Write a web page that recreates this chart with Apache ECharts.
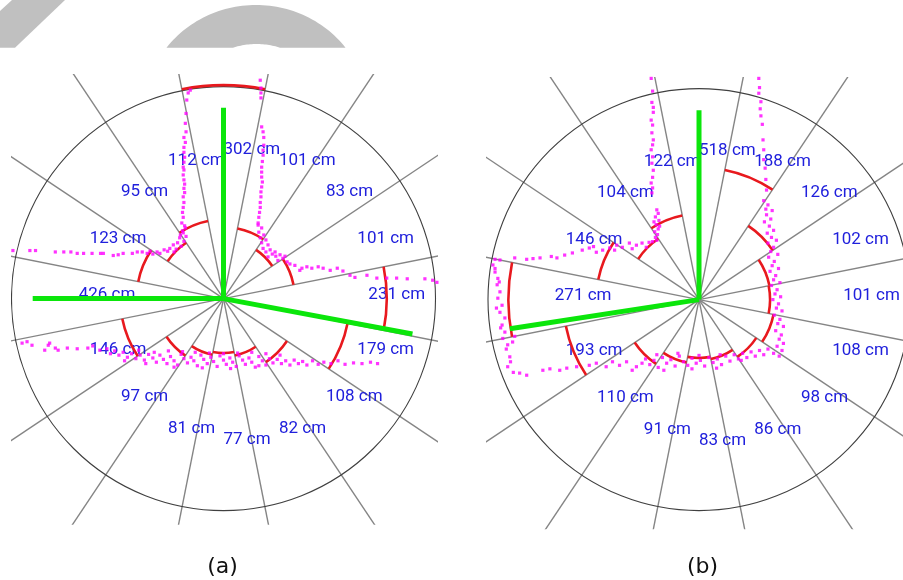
<!DOCTYPE html>
<html>
<head>
<meta charset="utf-8">
<script src="https://cdn.jsdelivr.net/npm/echarts@6/dist/echarts.min.js"></script>
<style>
html,body{margin:0;padding:0;background:#fff}
#chart{width:903px;height:580px}
</style>
</head>
<body>
<div id="chart"></div>
<script>
// Nearest obstacle per 22.5° sector, clockwise from straight ahead (cm)
const sectorDistA = [302, 101, 83, 101, 231, 179, 108, 82, 77, 81, 97, 146, 426, 123, 95, 112];
const sectorDistB = [518, 188, 126, 102, 101, 108, 98, 86, 83, 91, 110, 193, 271, 146, 104, 122];

// Candidate headings: [bearing in degrees clockwise from ahead, drawn length in cm]
const headingsA = [[0, 270], [270, 270], [100.6, 272]];
const headingsB = [[0, 268], [261.3, 272]];

// Laser scan returns, sensor frame (x right, y ahead), cm
const scanA = [
  [-47,295],[-50,291],[-52,281],[-53,262],[-54,248],[-53,236],[-56,228],[-54,221],[-56,214],[-56,207],
  [-55,200],[-56,193],[-57,186],[-56,182],[-57,175],[-56,168],[-55,162],[-56,156],[-55,150],[-57,144],
  [-56,136],[-57,129],[-58,122],[-57,115],[-59,107],[-55,103],
  [-54,100],[-57,93],[-53,88],[-62,86],[-56,81],[-65,79],[-60,74],[-71,76],[-67,70],[-76,71],
  [-79,67],[-84,69],[-90,64],[-94,66],[-100,63],[-70,66],[-104,67],[-58,96],[-61,90],
  [-298,68],[-274,68],[-266,68],[-238,66],[-226,66],[-216,66],[-207,64],[-198,64],[-186,64],[-174,64],
  [-170,64],[-156,61],[-149,62],[-142,64],[-129,64],[-122,66],[-115,66],[-108,64],
  [52,309],[53,298],[53,291],[53,284],[54,243],[56,236],[57,228],[57,217],[56,210],[56,203],
  [55,194],[54,186],[54,179],[54,172],[55,165],[54,158],[53,151],[53,144],[52,136],[52,129],
  [51,122],[50,115],[49,107],
  [49,104],[54,100],[50,94],[57,90],[52,86],[60,83],[54,79],[63,76],[56,71],[66,69],
  [60,66],[69,63],[73,66],[63,59],[74,60],[80,62],[84,57],[77,54],[87,60],
  [90,52],[94,49],[101,47],[108,40],[111,43],[118,45],[125,43],[134,45],[141,43],[151,40],
  [161,43],[169,39],[179,33],[186,30],[203,33],[217,29],[231,29],[245,29],[260,28],[285,28],
  [296,26],[302,23],
  [-285,-63],[-278,-61],[-271,-66],[-253,-73],[-248,-66],[-246,-63],[-238,-70],[-234,-73],[-221,-70],
  [-207,-71],[-192,-70],[-185,-67],[-175,-73],
  [-165,-71],[-160,-78],[-154,-74],[-148,-80],[-142,-76],[-136,-83],[-130,-78],[-124,-85],[-118,-80],
  [-112,-87],[-106,-79],[-100,-84],[-95,-90],[-90,-80],[-85,-86],[-80,-92],[-75,-82],[-70,-88],
  [-65,-94],[-60,-79],[-56,-85],[-51,-91],[-46,-83],[-42,-88],[-37,-95],[-32,-80],[-28,-86],
  [-23,-92],[-18,-83],[-14,-89],[-9,-96],[-5,-81],[0,-87],[4,-93],[9,-84],[13,-90],[18,-96],
  [22,-81],[27,-87],[31,-93],[36,-84],[40,-90],[45,-97],[50,-82],[55,-88],[60,-94],[65,-85],
  [70,-91],[76,-86],[82,-92],[88,-88],[94,-94],[100,-87],[106,-92],[112,-89],[118,-94],
  [-120,-73],[-98,-76],[-78,-74],[-58,-75],[-40,-76],[-20,-77],[0,-78],[20,-77],[40,-76],[60,-78],
  [80,-80],[-140,-88],[-110,-92],[-70,-97],[-30,-98],[10,-99],[50,-95],
  [126,-88],[134,-93],[142,-90],[152,-92],[162,-88],[172,-93],[184,-91],[196,-92],[208,-90],[218,-92]
];

const scanB = [
  [-68,313],[-66,295],[-67,279],[-65,272],[-65,265],[-68,254],[-66,247],[-67,236],[-65,226],[-66,219],
  [-68,212],[-66,202],[-67,193],[-65,183],[-66,173],[-68,165],[-66,158],[-67,151],
  [-60,127],[-58,122],[-62,117],[-57,112],[-61,106],[-58,100],[-63,96],[-59,92],[-62,88],[-60,84],
  [-66,82],[-56,104],[-64,110],
  [-71,81],[-81,80],[-89,77],[-99,80],[-109,74],[-117,77],[-127,73],[-137,70],[-146,67],[-156,73],
  [-166,70],[-180,66],[-191,63],[-202,59],[-226,59],[-245,57],[-262,59],[-283,56],[-290,57],[-95,72],
  [-120,70],[-150,75],[-75,74],[-210,61],[-236,58],
  [-293,49],[-290,39],[-286,30],[-287,21],[-283,11],[-286,2],[-280,-8],[-283,-18],[-276,-26],[-280,-36],
  [-276,-46],[-279,-55],[-272,-64],[-269,-81],[-272,-95],[-264,-103],[-255,-104],[-245,-107],[-290,44],
  [-284,25],[-288,-12],[-282,-40],[-274,-70],[-268,-88],[-262,-52],[-265,-60],
  [-222,-100],[-212,-98],[-198,-100],[-188,-97],[-174,-95],[-156,-93],[-146,-90],[-132,-95],[-123,-88],
  [-113,-93],[-103,-88],[-89,-95],[-81,-90],
  [-76,-84],[-70,-92],[-64,-86],[-58,-96],[-52,-82],[-46,-90],[-40,-85],[-34,-94],[-28,-80],[-22,-88],
  [-16,-93],[-10,-83],[-4,-90],[2,-86],[8,-94],[14,-82],[20,-89],[26,-84],[32,-92],[38,-80],
  [44,-87],[50,-78],[56,-84],[62,-76],[68,-82],[74,-74],[80,-80],[86,-72],[92,-78],[98,-70],
  [-60,-78],[-30,-76],[0,-79],[30,-78],[60,-86],[-95,-100],[-50,-100],[-10,-98],[25,-97],
  [92,140],[98,134],[95,128],[104,126],[96,120],[102,114],[93,110],[100,104],[106,98],[97,94],
  [103,88],[110,84],[98,80],[106,74],[102,68],[112,64],[99,60],[107,54],[104,48],[113,44],
  [101,40],[109,34],[106,28],[115,24],[103,20],[111,14],[108,8],[116,4],[105,0],[113,-6],
  [110,-12],[118,-16],[107,-22],[115,-28],[112,-34],[120,-38],[109,-44],[117,-50],[114,-56],[120,-62],
  [111,-66],[118,-72],[106,-76],[114,-80],
  [85,313],[86,300],[85,292],[88,280],[87,270],[88,260],[90,248],[91,226],[92,212],[92,198],
  [94,186],[95,170],[96,155]
];

const SECTORS = 16;
const SECTOR_DEG = 360 / SECTORS;
const RING_CM = 300;      // outer reference ring
const LABEL_CM = 205;     // where sector labels are anchored
const PX_PER_CM = 212 / RING_CM;

const rad = d => d * Math.PI / 180;
// bearing (clockwise from ahead) -> canvas angle (clockwise from +x)
const screenAngle = b => rad(b - 90);

function gridFor(cx, cy, xMin, xMax, yMin, yMax) {
  return {
    left: cx + xMin * PX_PER_CM,
    top: cy - yMax * PX_PER_CM,
    width: (xMax - xMin) * PX_PER_CM,
    height: (yMax - yMin) * PX_PER_CM,
    containLabel: false
  };
}

const panels = [
  { grid: gridFor(223.5, 298.6, -300, 302, -320, 318), x: [-300, 302], y: [-320, 318],
    dist: sectorDistA, headings: headingsA, scan: scanA },
  { grid: gridFor(700, 299.6, -302, 290, -325, 315), x: [-302, 290], y: [-325, 315],
    dist: sectorDistB, headings: headingsB, scan: scanB }
];

// Grey backdrop arch at the top edge: outer and inner elliptic outlines cut at y = 47.7
function archOutline() {
  const cut = 47.7, pts = [];
  const outer = { cx: 256, cy: 112, rx: 112, ry: 107 };
  const inner = { cx: 256.5, cy: 120.5, rx: 76.5, ry: 76.5 };
  const span = e => Math.asin((e.cy - cut) / e.ry);
  const a0 = span(outer), a1 = span(inner);
  for (let i = 0; i <= 60; i++) {
    const t = a0 + (Math.PI - 2 * a0) * i / 60;
    pts.push([outer.cx - outer.rx * Math.cos(t), outer.cy - outer.ry * Math.sin(t)]);
  }
  for (let i = 0; i <= 30; i++) {
    const t = (Math.PI - a1) - (Math.PI - 2 * a1) * i / 30;
    pts.push([inner.cx - inner.rx * Math.cos(t), inner.cy - inner.ry * Math.sin(t)]);
  }
  return pts;
}

function renderFrame(params, api) {
  const c = api.coord([0, 0]);
  const r = api.size([RING_CM, 0])[0];
  const far = api.size([1500, 0])[0];
  const children = [];
  for (let k = 0; k < SECTORS; k++) {
    const a = screenAngle(SECTOR_DEG / 2 + k * SECTOR_DEG);
    children.push({
      type: 'line',
      shape: { x1: c[0], y1: c[1], x2: c[0] + far * Math.cos(a), y2: c[1] + far * Math.sin(a) },
      style: { stroke: '#858585', lineWidth: 1.4 }
    });
  }
  children.push({
    type: 'circle',
    shape: { cx: c[0], cy: c[1], r: r },
    style: { fill: 'none', stroke: '#404040', lineWidth: 1.1 }
  });
  return { type: 'group', children };
}

function renderArc(params, api) {
  const k = api.value(0), d = api.value(1);
  const c = api.coord([0, 0]);
  const r = api.size([d, 0])[0];
  const b = k * SECTOR_DEG;
  return {
    type: 'arc',
    shape: { cx: c[0], cy: c[1], r: r,
             startAngle: screenAngle(b - SECTOR_DEG / 2), endAngle: screenAngle(b + SECTOR_DEG / 2),
             clockwise: true },
    style: { fill: 'none', stroke: '#e8191e', lineWidth: 2.6 }
  };
}

function renderLabel(params, api) {
  const k = api.value(0), d = api.value(1);
  const b = rad(k * SECTOR_DEG);
  const p = api.coord([LABEL_CM * Math.sin(b), LABEL_CM * Math.cos(b)]);
  return {
    type: 'text',
    x: p[0], y: p[1] - 4,
    style: { text: d + ' cm', fill: '#2020dc', font: '17px Roboto',
             align: 'left', verticalAlign: 'middle' }
  };
}

function renderHeading(params, api) {
  const b = rad(api.value(0)), len = api.value(1);
  const c = api.coord([0, 0]);
  const e = api.coord([len * Math.sin(b), len * Math.cos(b)]);
  return {
    type: 'line',
    shape: { x1: c[0], y1: c[1], x2: e[0], y2: e[1] },
    style: { stroke: '#0be60b', lineWidth: 5, lineCap: 'butt' }
  };
}

const option = {
  animation: false,
  backgroundColor: '#ffffff',
  grid: panels.map(p => p.grid),
  xAxis: panels.map((p, i) => ({ type: 'value', gridIndex: i, min: p.x[0], max: p.x[1], show: false })),
  yAxis: panels.map((p, i) => ({ type: 'value', gridIndex: i, min: p.y[0], max: p.y[1], show: false })),
  series: [],
  graphic: [
    { type: 'polygon', z: 0, silent: true,
      shape: { points: [[12, 0], [65, 0], [15, 47.7], [0, 47.7], [0, 11]] },
      style: { fill: '#c0c0c0' } },
    { type: 'polygon', z: 0, silent: true,
      shape: { points: archOutline() },
      style: { fill: '#c0c0c0' } },
    { type: 'text', x: 222.5, y: 567, silent: true,
      style: { text: '(a)', font: '22px "DejaVu Sans"', fill: '#111',
               textAlign: 'center', textVerticalAlign: 'middle' } },
    { type: 'text', x: 702.5, y: 567, silent: true,
      style: { text: '(b)', font: '22px "DejaVu Sans"', fill: '#111',
               textAlign: 'center', textVerticalAlign: 'middle' } }
  ]
};

panels.forEach((p, i) => {
  const sectorData = p.dist.map((d, k) => [k, d]);
  const common = { xAxisIndex: i, yAxisIndex: i, silent: true };
  option.series.push(
    Object.assign({ type: 'custom', z: 1, clip: true, data: [[0, 0]], renderItem: renderFrame }, common),
    Object.assign({ type: 'custom', z: 2, clip: false, data: sectorData, renderItem: renderLabel }, common),
    Object.assign({ type: 'custom', z: 3, clip: true, data: sectorData, renderItem: renderArc }, common),
    Object.assign({ type: 'scatter', z: 4, clip: true, data: p.scan, symbol: 'rect', symbolSize: 3.2,
                    itemStyle: { color: '#ff00ff' } }, common),
    Object.assign({ type: 'custom', z: 5, clip: true, data: p.headings, renderItem: renderHeading }, common)
  );
});

const chart = echarts.init(document.getElementById('chart'), null, { renderer: 'canvas' });
chart.setOption(option);
</script>
</body>
</html>
